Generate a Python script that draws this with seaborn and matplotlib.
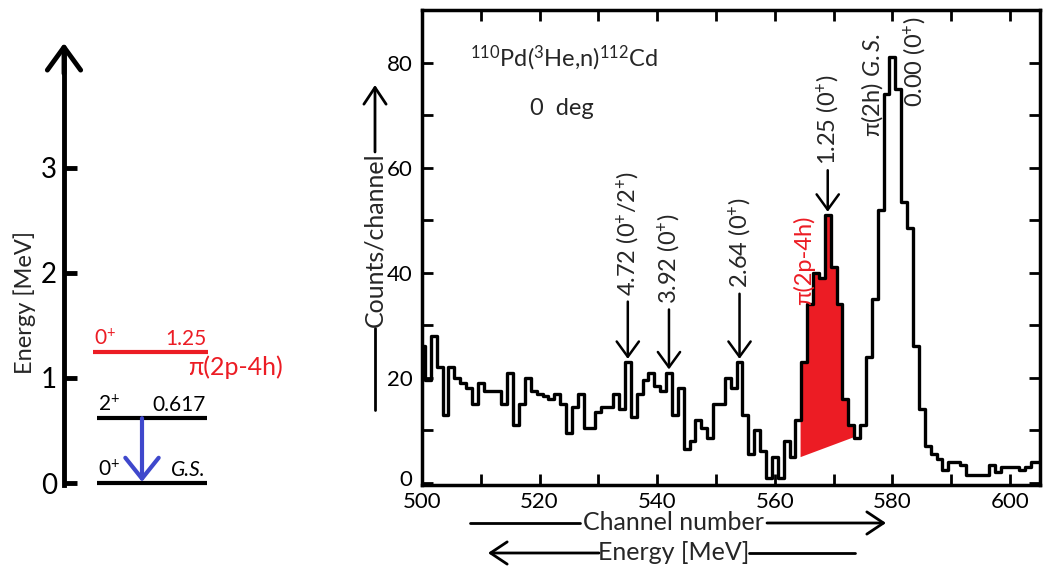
import numpy as np
import pandas as pd
import matplotlib
matplotlib.use("Agg")
import matplotlib.pyplot as plt
from matplotlib.lines import Line2D
from matplotlib.transforms import ScaledTranslation
import seaborn as sns

# ---------------- data ----------------
channels = list(range(500, 606))
counts = [
    26, 19.5, 28, 22, 13, 22, 20, 19, 18, 15,          # 500-509
    19, 17.5, 17.5, 17.5, 15, 21, 11, 15, 20, 17.5,    # 510-519
    17, 16.5, 16, 17, 15, 9.5, 14.5, 17, 10.5, 10.5,   # 520-529
    13.5, 14.5, 14.5, 17, 14, 23, 12.5, 17, 19.5, 21,  # 530-539
    18.5, 17.5, 21, 13, 18, 6.5, 8, 12, 10.5, 8.5,     # 540-549
    15, 15, 20, 18, 23, 13, 5.5, 10, 6, 1,             # 550-559
    5, 1, 8, 5, 12, 23, 34, 40, 39, 51,                # 560-569
    41, 34, 16, 11, 8.5, 11, 24, 35, 52, 74,           # 570-579
    81, 75, 53.5, 48.5, 26, 14, 7, 5.5, 4.5, 2.5,      # 580-589
    4, 4, 3.5, 1.5, 1.5, 1.5, 1.5, 3.5, 2, 3,          # 590-599
    3, 3, 2.5, 3, 4, 4,                                # 600-605
]

# excited-state peaks marked in the spectrum
peak_channels = [535, 542, 554, 569]
peak_labels = [r"4.72 (0$\mathregular{^{+}}$/2$\mathregular{^{+}}$)",
               r"3.92 (0$\mathregular{^{+}}$)",
               r"2.64 (0$\mathregular{^{+}}$)",
               r"1.25 (0$\mathregular{^{+}}$)"]
arrow_length = [11.5, 12.0, 13.0, 8.5]

# shaded pi(2p-4h) component: channel range and background line under it
shade_range = [564.3, 573.4]
shade_background = [5.0, 8.8]

# level scheme of 112Cd
level_energy = [0.0, 0.617, 1.25]
level_spin = [r"0$\mathregular{^{+}}$", r"2$\mathregular{^{+}}$", r"0$\mathregular{^{+}}$"]
level_name = ["G.S.", "0.617", "1.25"]
level_color = ["black", "black", "#ec1c24"]
energy_ticks = [0, 1, 2, 3]

RED = "#ec1c24"
BLUE = "#3f48cc"

sns.set_style("white")
plt.rcParams["font.family"] = ["Lato", "DejaVu Sans"]
plt.rcParams["mathtext.fontset"] = "custom"
plt.rcParams["mathtext.rm"] = "Lato"
plt.rcParams["mathtext.it"] = "Lato:italic"
plt.rcParams["mathtext.bf"] = "Lato:bold"

W, H = 1043, 570
fig = plt.figure(figsize=(W / 100, H / 100), dpi=100)
fig.patch.set_facecolor("white")


def fp(x, y):
    """figure fraction from pixel position measured from the top-left"""
    return (x / W, 1 - y / H)


# ---------------- spectrum panel ----------------
ax = fig.add_axes([422 / W, 1 - 485 / H, (1040 - 422) / W, (485 - 10) / H])
df = pd.DataFrame({"channel": channels, "counts": counts})

ch = np.asarray(channels, dtype=float)
cn = np.asarray(counts, dtype=float)
xg = np.linspace(shade_range[0], shade_range[1], 3000)
top = cn[(np.floor(xg + 0.5) - ch[0]).astype(int)]
base = np.interp(xg, shade_range, shade_background)
ax.fill_between(xg, base, top, color=RED, lw=0, zorder=1)

sns.histplot(data=df, x="channel", weights="counts", discrete=True,
             element="step", fill=False, color="black", linewidth=2.4,
             ax=ax, zorder=2)

ax.set_xlim(500, 605.1)
ax.set_ylim(-0.4, 90)
ax.set_xticks(range(500, 610, 10))
ax.set_xticklabels([str(v) if v % 20 == 0 else "" for v in range(500, 610, 10)])
ax.set_yticks(range(0, 90, 10))
ax.set_yticklabels([str(v) if v % 20 == 0 else "" for v in range(0, 90, 10)])
ax.tick_params(direction="in", length=8, width=2, top=True, right=True,
               left=True, bottom=True, labelsize=16, pad=5, colors="black")
ax.tick_params(axis="y", pad=7)
ax.set_xlabel("")
ax.set_ylabel("")
for s in ax.spines.values():
    s.set_visible(True)
    s.set_linewidth(2.5)
    s.set_color("black")
# lift the lowest count label clear of the channel labels
ax.get_yticklabels()[0].set_transform(
    ax.get_yticklabels()[0].get_transform() + ScaledTranslation(0, 5 / 100, fig.dpi_scale_trans))

# reaction label
ax.text(508.2, 79.2, r"$\mathregular{^{110}}$Pd($\mathregular{^{3}}$He,n)$\mathregular{^{112}}$Cd",
        fontsize=17, va="baseline", ha="left")
ax.text(518.4, 70.1, "0  deg", fontsize=17, va="baseline", ha="left")

# arrows and labels for the excited states
for c, lab, L in zip(peak_channels, peak_labels, arrow_length):
    h = counts[channels.index(c)]
    tip = h + 0.6
    tail = h + L
    ax.annotate("", xy=(c, tip), xytext=(c, tail),
                arrowprops=dict(arrowstyle="->,head_length=0.55,head_width=0.4",
                                lw=1.8, color="black", mutation_scale=20,
                                shrinkA=0, shrinkB=0))
    ax.text(c, tail + 1.0, lab, rotation=90, ha="center", va="bottom", fontsize=17)

ax.text(564.9, 33.9, "π(2p-4h)", rotation=90, ha="center", va="bottom",
        fontsize=17, color=RED)
ax.text(576.5, 65.9, "π(2h) $\\mathit{G.S.}$", rotation=90, ha="center",
        va="bottom", fontsize=17)
ax.text(583.8, 71.6, r"0.00 (0$\mathregular{^{+}}$)", rotation=90, ha="center",
        va="bottom", fontsize=17)

# axis captions with direction arrows
fig.text(*fp(673, 523), "Channel number", ha="center", va="center", fontsize=18)
fig.text(*fp(674, 553), "Energy [MeV]", ha="center", va="center", fontsize=18)
fig.text(*fp(375, 240), "Counts/channel", ha="center", va="center",
         rotation=90, fontsize=18)

arrow_kw = dict(arrowstyle="->,head_length=0.6,head_width=0.4", lw=2,
                color="black", mutation_scale=20, shrinkA=0, shrinkB=0)
fig.add_artist(Line2D([470 / W, 580 / W], [1 - 523 / H] * 2, color="black", lw=2))
ax.annotate("", xy=fp(886, 523), xytext=fp(767, 523), xycoords="figure fraction",
            textcoords="figure fraction", arrowprops=arrow_kw, annotation_clip=False)
ax.annotate("", xy=fp(488, 553), xytext=fp(599, 553), xycoords="figure fraction",
            textcoords="figure fraction", arrowprops=arrow_kw, annotation_clip=False)
fig.add_artist(Line2D([749 / W, 855 / W], [1 - 553 / H] * 2, color="black", lw=2))
fig.add_artist(Line2D([375 / W] * 2, [1 - 410 / H, 1 - 328 / H], color="black", lw=2))
ax.annotate("", xy=fp(375, 85), xytext=fp(375, 152), xycoords="figure fraction",
            textcoords="figure fraction", arrowprops=arrow_kw, annotation_clip=False)

# ---------------- level scheme panel ----------------
axl = fig.add_axes([0, 0, 300 / W, 1])
axl.set_xlim(0, 300)
axl.set_ylim((483 - 570) / 105, 483 / 105)
axl.patch.set_alpha(0)
for k in ["top", "right", "bottom"]:
    axl.spines[k].set_visible(False)
axl.spines["left"].set_position(("data", 64))
axl.spines["left"].set_bounds(-0.02, 4.1)
axl.spines["left"].set_linewidth(3.5)
axl.spines["left"].set_color("black")
axl.set_xticks([])
axl.set_yticks(energy_ticks)
axl.tick_params(axis="y", direction="in", left=True, length=9, width=3.5,
                labelsize=20, pad=5, colors="black")
axl.set_ylabel("")
fig.text(*fp(25, 302), "Energy [MeV]", rotation=90, ha="center", va="center",
         fontsize=17)
axl.annotate("", xy=(64, 4.19), xytext=(64, 3.9),
             arrowprops=dict(arrowstyle="->,head_length=0.55,head_width=0.4",
                             lw=3.5, color="black", mutation_scale=30,
                             shrinkA=0, shrinkB=0))

starts = [97, 97, 93]
ends = [207, 207, 208]
for e, sp, nm, col, x0, x1 in zip(level_energy, level_spin, level_name,
                                   level_color, starts, ends):
    axl.plot([x0, x1], [e, e], color=col, lw=3, solid_capstyle="butt")
    axl.text(x0 + 1, e + 0.03, sp, color=col, fontsize=15, ha="left", va="bottom")
    axl.text(x1 - 1, e + 0.03, nm, color=col, fontsize=15, ha="right", va="bottom",
             fontstyle="italic" if nm == "G.S." else "normal")
axl.text(188, 1.10, "π(2p-4h)", color=RED, fontsize=18, ha="left", va="center")

axl.annotate("", xy=(142, level_energy[0] + 0.01), xytext=(142, level_energy[1]),
             arrowprops=dict(arrowstyle="->,head_length=0.5,head_width=0.4",
                             lw=3, color=BLUE, mutation_scale=30,
                             shrinkA=0, shrinkB=0))

fig.savefig("out.png", dpi=100, facecolor="white")
